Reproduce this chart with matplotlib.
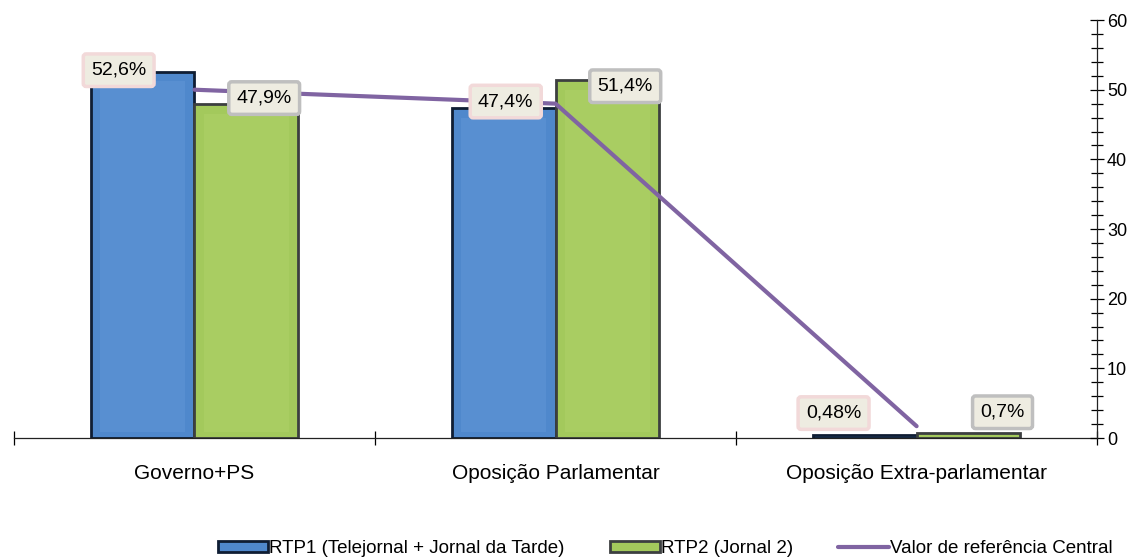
import matplotlib
matplotlib.use("Agg")
import matplotlib.pyplot as plt
from matplotlib.ticker import MultipleLocator, FixedLocator, NullFormatter
import numpy as np

categories = ["Governo+PS", "Oposição Parlamentar", "Oposição Extra-parlamentar"]
rtp1 = [52.6, 47.4, 0.48]
rtp2 = [47.9, 51.4, 0.7]
referencia = [50.0, 48.0, 1.7]
rtp1_labels = ["52,6%", "47,4%", "0,48%"]
rtp2_labels = ["47,9%", "51,4%", "0,7%"]
series_names = ["RTP1 (Telejornal + Jornal da Tarde)", "RTP2 (Jornal 2)", "Valor de referência Central"]
yticks = [0, 10, 20, 30, 40, 50, 60]

plt.rcParams['font.family'] = ['Liberation Sans', 'DejaVu Sans']

fig = plt.figure(figsize=(11.45, 5.57), dpi=100)
ax = fig.add_axes([0.0122, 0.2136, 0.946, 0.7504])

x = np.arange(len(categories))
w = 0.287
blue = "#4f88cc"
green = "#a3c95c"
b1 = ax.bar(x - w/2, rtp1, w, color=blue, edgecolor="#0f1d33", linewidth=2, zorder=2,
            label=series_names[0])
b2 = ax.bar(x + w/2, rtp2, w, color=green, edgecolor="#3c3f40", linewidth=2, zorder=2,
            label=series_names[1])
# inner bevel highlight
for bars, hl in ((b1, "#6a9ddb"), (b2, "#b5d670")):
    for r in bars:
        h = r.get_height()
        if h > 3:
            ax.bar(r.get_x() + r.get_width()/2, h - 2.2, r.get_width() * 0.82, bottom=0.8,
                   color=hl, alpha=0.35, linewidth=0, zorder=2.5)

ln, = ax.plot(x, referencia, color="#8064a2", linewidth=3, zorder=3, label=series_names[2],
              solid_capstyle="round")

# data labels
lab1_off = [(-0.21, 0.2), (-0.138, 0.9), (-0.23, 3.1)]
lab2_off = [(0.193, 0.9), (0.193, -0.9), (0.238, 3.0)]
for i in range(len(categories)):
    dx, dy = lab1_off[i]
    ax.text(x[i] + dx, rtp1[i] + dy, rtp1_labels[i], ha="center", va="center", fontsize=14,
            zorder=5, bbox=dict(boxstyle="round,pad=0.4,rounding_size=0.15", fc="#eeece1",
                                ec="#f2d9d9", lw=2.5))
    dx, dy = lab2_off[i]
    ax.text(x[i] + dx, rtp2[i] + dy, rtp2_labels[i], ha="center", va="center", fontsize=14,
            zorder=5, bbox=dict(boxstyle="round,pad=0.4,rounding_size=0.15", fc="#eeece1",
                                ec="#bfbfbf", lw=2.5))

ax.set_xlim(-0.5, 2.5)
ax.set_ylim(0, 60)
for s in ["top", "left", "right"]:
    ax.spines[s].set_visible(False)
ax.spines["bottom"].set_color("#222222")
ax.spines["bottom"].set_linewidth(0.9)

# right axis line
ax2 = ax.twinx()
ax2.set_ylim(0, 60)
for s in ["top", "left", "bottom"]:
    ax2.spines[s].set_visible(False)
ax2.spines["right"].set_color("#222222")
ax2.spines["right"].set_linewidth(0.9)
ax2.yaxis.set_major_locator(FixedLocator(yticks))
ax2.yaxis.set_minor_locator(MultipleLocator(2))
ax2.tick_params(axis="y", which="major", direction="inout", length=10, width=0.9,
                labelsize=13, pad=2)
ax2.tick_params(axis="y", which="minor", direction="inout", length=8, width=0.9)
ax.set_yticks([])

ax.xaxis.set_major_locator(FixedLocator([-0.5, 0.5, 1.5, 2.5]))
ax.xaxis.set_major_formatter(NullFormatter())
ax.xaxis.set_minor_locator(FixedLocator(list(x)))
ax.set_xticklabels(categories, minor=True)
ax.tick_params(axis="x", which="major", direction="inout", length=10, width=0.9)
ax.tick_params(axis="x", which="minor", length=0, labelsize=15, pad=19)

leg = fig.legend(handles=[b1, b2, ln], labels=series_names, loc="lower center",
                 bbox_to_anchor=(0.581, -0.03), ncol=3, frameon=False, fontsize=13.5,
                 handlelength=2.7, handleheight=0.5, handletextpad=0.05, columnspacing=2.4)

fig.savefig("out.png", dpi=100)
